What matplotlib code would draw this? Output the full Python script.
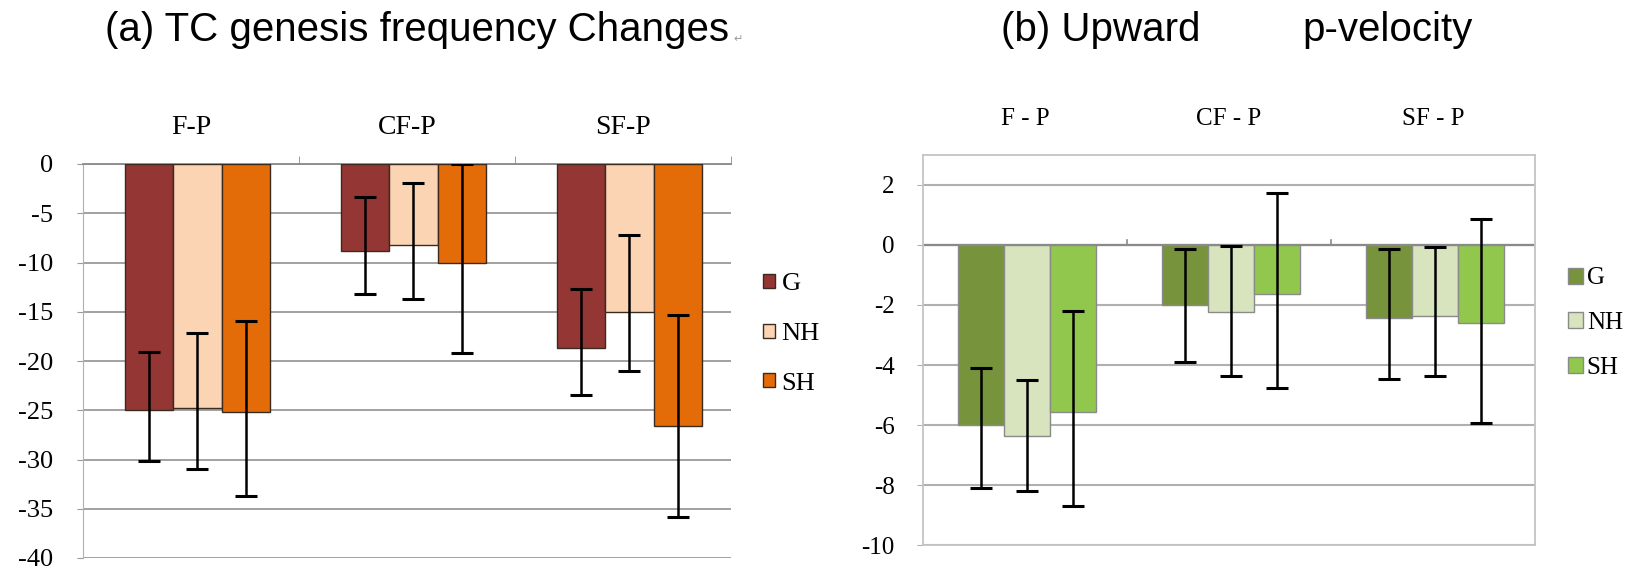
import matplotlib.pyplot as plt
import numpy as np

# ---------------- data ----------------
groups_a = ["F-P", "CF-P", "SF-P"]
groups_b = ["F - P", "CF - P", "SF - P"]
series = ["G", "NH", "SH"]

# (a) TC genesis frequency changes
a_vals = {"G": [-25.0, -8.8, -18.7],
          "NH": [-24.8, -8.2, -15.0],
          "SH": [-25.2, -10.1, -26.6]}
a_top = {"G": [-19.1, -3.4, -12.7],
         "NH": [-17.2, -1.95, -7.2],
         "SH": [-15.9, 0.0, -15.3]}
a_bot = {"G": [-30.2, -13.2, -23.5],
         "NH": [-31.0, -13.7, -21.0],
         "SH": [-33.7, -19.2, -35.8]}

# (b) upward p-velocity
b_vals = {"G": [-6.0, -2.0, -2.43],
          "NH": [-6.37, -2.25, -2.36],
          "SH": [-5.55, -1.62, -2.59]}
b_top = {"G": [-4.1, -0.13, -0.13],
         "NH": [-4.5, -0.02, -0.06],
         "SH": [-2.2, 1.73, 0.87]}
b_bot = {"G": [-8.1, -3.9, -4.48],
         "NH": [-8.2, -4.37, -4.37],
         "SH": [-8.7, -4.76, -5.94]}

colors_a = {"G": "#943634", "NH": "#FBD4B4", "SH": "#E36C09"}
colors_b = {"G": "#77933C", "NH": "#D7E4BD", "SH": "#92C74E"}

serif = ["Liberation Serif", "DejaVu Serif"]
sans = ["Liberation Sans", "DejaVu Sans"]

W, H = 1637, 569
fig = plt.figure(figsize=(W / 100, H / 100), dpi=100)


def px_axes(x0, y0, x1, y1):
    return fig.add_axes([x0 / W, 1 - y1 / H, (x1 - x0) / W, (y1 - y0) / H])


def draw_bars(ax, vals, top, bot, colors, edge, shift):
    x = np.arange(3)
    w = 0.225
    handles = []
    for i, s in enumerate(series):
        v = np.array(vals[s])
        err = [v - np.array(bot[s]), np.array(top[s]) - v]
        pos = x + (i - 1) * w + shift
        b = ax.bar(pos, v, w, color=colors[s], edgecolor=edge,
                   linewidth=1.0, zorder=3, label=s)
        ax.errorbar(pos, v, yerr=err, fmt="none", ecolor="black",
                    elinewidth=1.8, capsize=8, capthick=2.2, zorder=4)
        handles.append(b)
    ax.set_xlim(-0.5, 2.5)
    return handles


# ---------------- panel (a) ----------------
ax1 = px_axes(83, 164, 731, 558)
h1 = draw_bars(ax1, a_vals, a_top, a_bot, colors_a, "#3a2a20", 0.03)
ax1.set_ylim(-40, 0)
ax1.set_yticks(np.arange(-40, 1, 5))
ax1.set_yticklabels([str(t) for t in range(-40, 1, 5)], family=serif, fontsize=19)
ax1.yaxis.grid(True, color="#9a9a9a", linewidth=1.3, zorder=0)
ax1.tick_params(axis="y", length=4.3, color="#9a9a9a", pad=17)
for sp in ["right", "bottom"]:
    ax1.spines[sp].set_visible(False)
ax1.spines["left"].set_color("#b0b0b0")
ax1.spines["top"].set_color("#8a8a8a")
ax1.spines["top"].set_linewidth(1.3)
ax1.xaxis.tick_top()
ax1.set_xticks([0, 1, 2])
ax1.set_xticklabels(groups_a, family=serif, fontsize=20)
ax1.tick_params(axis="x", which="major", length=0, pad=17)
ax1.set_xticks([0.5, 1.5, 2.5], minor=True)
ax1.tick_params(axis="x", which="minor", top=True, length=6, color="#8a8a8a")
fig.legend(handles=h1, labels=series, loc="center left",
           bbox_to_anchor=(763 / W, 1 - 334 / H), frameon=False, borderpad=0,
           borderaxespad=0, prop={"family": serif, "size": 19},
           handlelength=0.45, handleheight=0.45, handletextpad=0.25,
           labelspacing=1.05)

# ---------------- panel (b) ----------------
ax2 = px_axes(923, 155, 1535, 545)
h2 = draw_bars(ax2, b_vals, b_top, b_bot, colors_b, "#8a8a8a", 0.01)
ax2.set_ylim(-10, 3)
ax2.set_yticks(np.arange(-10, 3, 2))
ax2.set_yticklabels([str(t) for t in range(-10, 3, 2)], family=serif, fontsize=18)
ax2.yaxis.grid(True, color="#b0b0b0", linewidth=1.5, zorder=0)
ax2.axhline(0, color="#8a8a8a", linewidth=1.6, zorder=2)
ax2.tick_params(axis="y", length=4.3, color="#b0b0b0", pad=16)
for sp in ax2.spines.values():
    sp.set_color("#c4c4c4")
    sp.set_linewidth(1.3)
ax2.xaxis.tick_top()
ax2.set_xticks([0, 1, 2])
ax2.set_xticklabels(groups_b, family=serif, fontsize=18)
ax2.tick_params(axis="x", which="major", length=0, pad=18)
for xb in [0.5, 1.5]:
    ax2.plot([xb, xb], [0, 0.15], color="#8a8a8a", linewidth=1.2, zorder=2)
fig.legend(handles=h2, labels=series, loc="center left",
           bbox_to_anchor=(1568 / W, 1 - 323 / H), frameon=False, borderpad=0,
           borderaxespad=0, prop={"family": serif, "size": 18},
           handlelength=0.6, handleheight=0.6, handletextpad=0.15,
           labelspacing=0.9)

# ---------------- titles ----------------
ta = fig.text(105 / W, 1 - 30 / H, "(a) TC genesis frequency Changes", family=sans,
              fontsize=29, va="center", ha="left")
ax1.annotate("\u21b5", xy=(1, 0.25), xycoords=ta, xytext=(3, 0),
             textcoords="offset points", family=sans, fontsize=8,
             color="#9a9a9a", va="center", ha="left", annotation_clip=False)
fig.text(1001 / W, 1 - 30 / H, "(b) Upward", family=sans, fontsize=29,
         va="center", ha="left")
fig.text(1302 / W, 1 - 30 / H, "p-velocity", family=sans, fontsize=29,
         va="center", ha="left")

fig.savefig("out.png", dpi=100)
